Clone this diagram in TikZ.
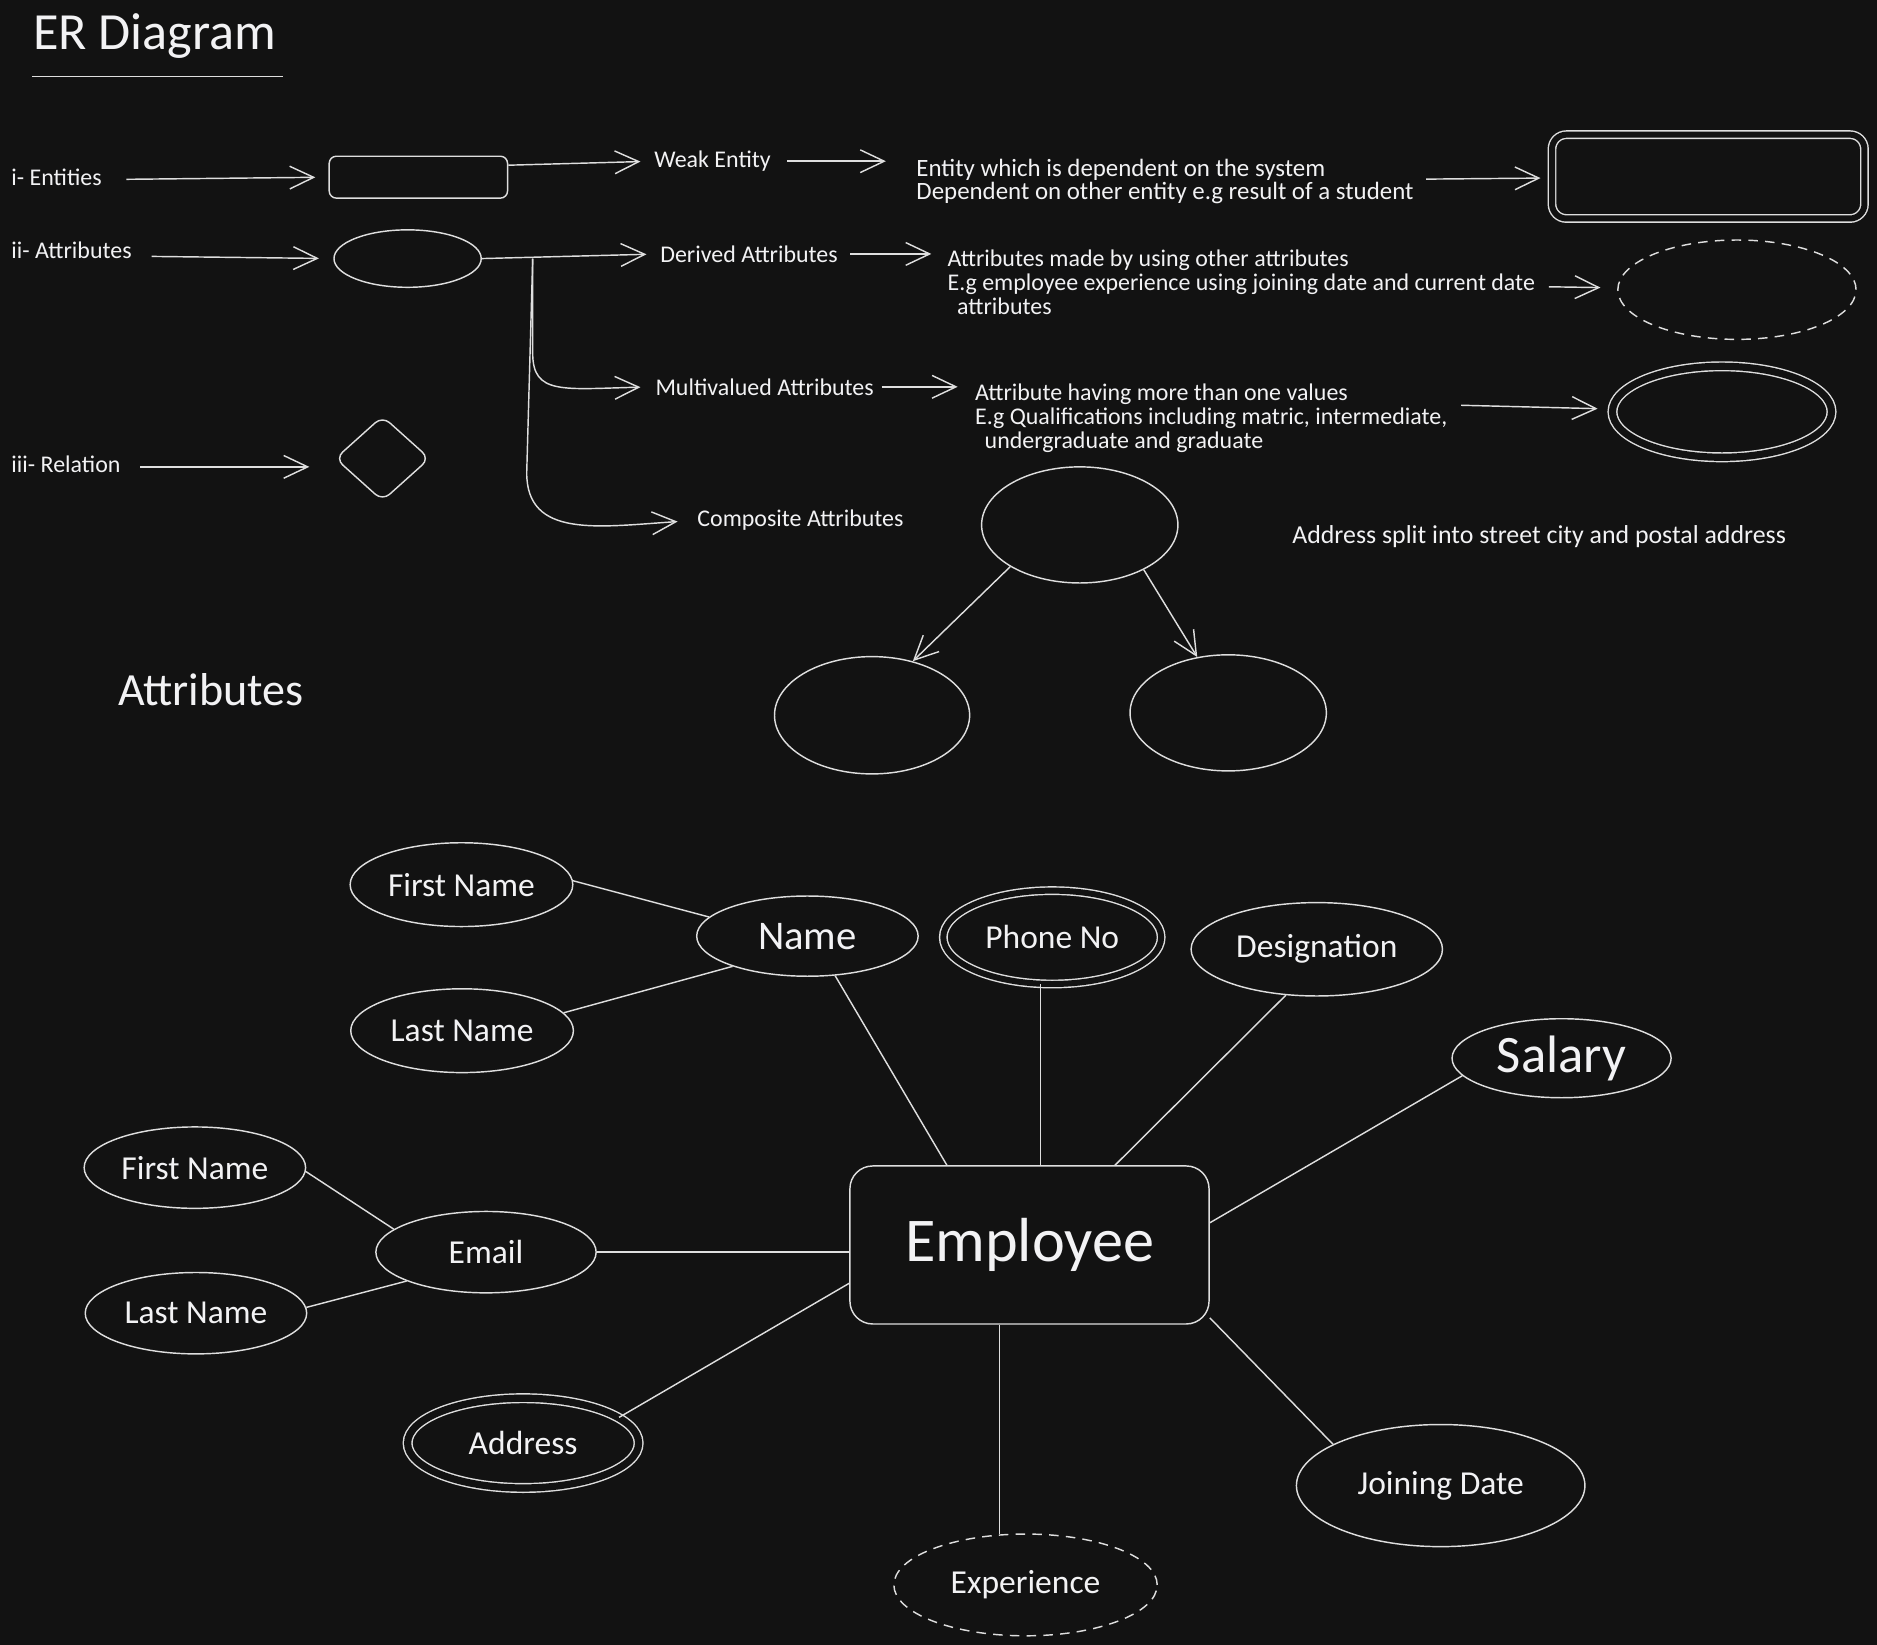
\documentclass[tikz,border=0pt]{standalone}
\usepackage{fontspec}
\setmainfont{Carlito}
\usetikzlibrary{shapes.geometric,arrows.meta}

\definecolor{board}{RGB}{18,18,18}
\definecolor{chalk}{RGB}{222,222,222}
\definecolor{chalktext}{RGB}{242,242,244}

\begin{document}
\begin{tikzpicture}[x=1pt,y=-1pt,>={Straight Barb[length=20pt,width=19pt]},
  line width=1.2pt,chalk,
  every node/.style={text=chalktext,inner sep=0pt},
  note/.style={font=\fontsize{20}{20}\selectfont,anchor=base west},
  memo/.style={font=\fontsize{20}{20}\selectfont,align=left,anchor=north west},
  arr/.style={->,draw=chalk},
  link/.style={draw=chalk},
  attr/.style={ellipse,draw=chalk,font=\fontsize{28}{28}\selectfont},
  multi/.style={attr,double=board,double distance=6pt},
  derived/.style={attr,dash pattern=on 8pt off 6pt},
  entity/.style={rectangle,draw=chalk,rounded corners=#1}]

\fill[board] (0,0) rectangle (1568,1374);

% The title
\node[font=\fontsize{43.6}{43.6}\selectfont,anchor=base west] (title) at (27,41) {ER Diagram};
\draw (27,64) -- (236,64);

% The symbols
\node[note] (entlbl) at (9,155) {i- Entities};
\node[note] (attrlbl) at (9,216) {ii- Attributes};
\node[note] (rellbl) at (9,395) {iii- Relation};

\node[entity=6pt,minimum width=149pt,minimum height=35pt] (entbox) at (349.5,148) {};
\node[attr,minimum width=123pt,minimum height=48pt] (attrell) at (340.5,216) {};
\node[diamond,draw=chalk,rounded corners=8pt,minimum width=79pt,minimum height=71pt] (relshape) at (319.5,383) {};

\draw[arr,shorten <=20pt,shorten >=11pt] ([yshift=5pt]entlbl.base east) -- (entbox.west);
\draw[arr,shorten <=16pt,shorten >=12pt] ([yshift=2pt]attrlbl.base east) -- (attrell.west);
\draw[arr,shorten <=16pt,shorten >=21pt] ([yshift=5pt]rellbl.base east) -- ([yshift=5pt]rellbl.base east -| relshape.west);

% The kinds
\node[note] (weaklbl) at (546,140) {Weak Entity};
\node[note] (derlbl) at (551,219) {Derived Attributes};
\node[note] (multlbl) at (547,330) {Multivalued Attributes};
\node[note] (complbl) at (582,440) {Composite Attributes};

\node[memo,font=\fontsize{20.8}{20}\selectfont] (weaknote) at (765,132) {Entity which is dependent on the system\\Dependent on other entity e.g result of a student};
\node[memo] (dernote) at (791,208) {Attributes made by using other attributes\\E.g employee experience using joining date and current date\\\hspace*{8pt}attributes};
\node[memo] (multnote) at (814,320) {Attribute having more than one values\\E.g Qualifications including matric, intermediate,\\\hspace*{8pt}undergraduate and graduate};
\node[note,font=\fontsize{21.6}{21.6}\selectfont] (compnote) at (1079,454) {Address split into street city and postal address};

\node[entity=12pt,double=board,double distance=5pt,minimum width=261pt,minimum height=70pt] (weakbox) at (1427,147.5) {};
\node[derived,minimum width=199pt,minimum height=83pt] (derell) at (1451,242) {};
\node[multi,minimum width=183pt,minimum height=76pt] (multell) at (1438.5,344) {};

\node[attr,minimum width=164pt,minimum height=97pt] (compell) at (902,438.5) {};
\node[attr,minimum width=163pt,minimum height=98pt] (compleft) at (728.5,597.5) {};
\node[attr,minimum width=164pt,minimum height=97pt] (compright) at (1026,595.5) {};

\draw[arr,shorten >=11pt] ([yshift=10pt]entbox.east) -- (weaklbl.west);
\draw[arr,shorten <=13pt,shorten >=25pt] (weaklbl.east) -- (weaklbl.east -| weaknote.west);
\draw[arr,shorten <=10pt,shorten >=9pt] (weaknote) -- (weakbox);

\draw[arr,shorten >=11pt] (attrell.east) -- (derlbl.west);
\draw[arr,shorten <=10pt,shorten >=13pt] (derlbl.east) -- (derlbl.east -| dernote.west);
\draw[arr,shorten <=11pt,shorten >=14pt] (dernote) -- (derell);

\draw[arr,shorten <=6pt,shorten >=14pt] (multlbl.east) -- (multlbl.east -| multnote.west);
\draw[arr,shorten <=11pt,shorten >=12pt] ([yshift=11pt]multnote.east) -- (multell);

% The branches
\coordinate (fork) at (445,216);
\draw[arr,shorten >=12pt] (fork) -- (445,295) .. controls (445,330) and (470,325) .. (multlbl.west);
\draw[arr,shorten >=16pt] (fork) -- (440,395) .. controls (440,450) and (500,440) .. (complbl.west);

\draw[arr] (compell.211) -- (compleft.53);
\draw[arr] (compell.325) -- (compright.119);

% The example
\node[font=\fontsize{38.5}{38.5}\selectfont,anchor=base west] (attrhead) at (98,589) {Attributes};

\node[entity=19pt,minimum width=300pt,minimum height=132pt,font=\fontsize{52}{52}\selectfont] (emp) at (860,1040) {Employee};

\node[attr,minimum width=186pt,minimum height=70pt] (fname) at (385.5,739) {First Name};
\node[attr,minimum width=185pt,minimum height=67pt,font=\fontsize{34}{34}\selectfont] (name) at (674.5,782) {Name};
\node[attr,minimum width=186pt,minimum height=70pt] (lname) at (386,861) {Last Name};
\node[multi,double distance=5pt,minimum width=182pt,minimum height=78pt] (phone) at (879,783) {Phone No};
\node[attr,minimum width=210pt,minimum height=78pt] (desig) at (1100,793) {Designation};
\node[attr,minimum width=183pt,minimum height=66pt,font=\fontsize{44}{44}\selectfont] (salary) at (1304.5,884) {Salary};
\node[attr,minimum width=241pt,minimum height=102pt] (joindate) at (1203.5,1241) {Joining Date};
\node[derived,minimum width=220pt,minimum height=85pt] (exper) at (856.7,1324) {Experience};
\node[multi,minimum width=193pt,minimum height=75pt] (address) at (437,1205.5) {Address};
\node[attr,minimum width=184pt,minimum height=68pt] (email) at (406,1046) {Email};
\node[attr,minimum width=185pt,minimum height=68pt] (fname2) at (162.8,975.4) {First Name};
\node[attr,minimum width=185pt,minimum height=68pt] (lname2) at (163.7,1097) {Last Name};

% The links
\draw[link] (fname.2) -- (name.169);
\draw[link] (lname.10) -- (name.202);
\draw[link] (name.305) -- (emp.136);
\draw[link] (phone.256) -- (phone.256 |- emp.north);
\draw[link] (desig.236) -- (emp.43);
\draw[link] (salary.190) -- (emp.7);
\draw[link] (emp.338) -- (joindate.159);
\draw[link] (exper.117 |- emp.south) -- (exper.117);
\draw[link] (address.15) -- (emp.192);
\draw[link] (email.east) -- (email.east -| emp.west);
\draw[link] (fname2.358) -- (email.166);
\draw[link] (lname2.3) -- (email.200);

\end{tikzpicture}
\end{document}
